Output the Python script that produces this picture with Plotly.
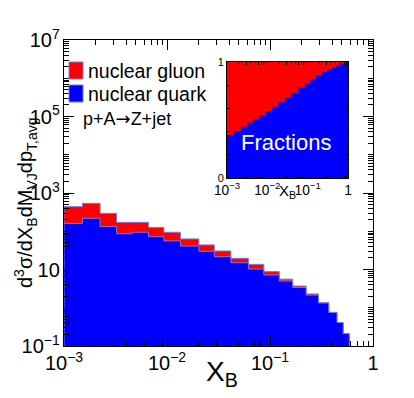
import plotly.graph_objects as go

# main histogram: X_B bin edges and stacked yields
xb_edges = [0.001, 0.00151, 0.00224, 0.00324, 0.00457, 0.00661, 0.00933, 0.0135,
            0.0204, 0.0288, 0.0417, 0.0617, 0.0871, 0.123, 0.166, 0.224, 0.295,
            0.372, 0.447, 0.513, 0.589]
total_yield = [439, 537, 294, 171, 171, 126, 94, 63, 44, 30.5, 19.6, 13.6, 8.8,
               5.6, 3.7, 2.3, 1.36, 0.76, 0.41, 0.21]
quark_yield = [161, 218, 132, 86, 94, 72, 56, 41, 30, 21.6, 15, 10.3, 7.2,
               5.0, 3.4, 2.15, 1.33, 0.75, 0.41, 0.21]

# inset: quark fraction per bin
frac_edges = [0.001, 0.00141, 0.00219, 0.00316, 0.00437, 0.00617, 0.00891, 0.0132,
              0.0186, 0.0275, 0.0398, 0.0589, 0.0851, 0.117, 0.162, 0.229, 0.302,
              0.398, 0.513, 0.646, 0.832, 1.0]
quark_frac = [0.371, 0.405, 0.442, 0.477, 0.505, 0.540, 0.577, 0.614, 0.654, 0.691,
              0.734, 0.777, 0.817, 0.851, 0.888, 0.914, 0.937, 0.956, 0.971, 0.985, 0.995]

legend_labels = ['nuclear gluon', 'nuclear quark']
RED = '#ff0000'
BLUE = '#0000ff'
EDGE = '#7a7ae0'
FONT = 'Liberation Sans, Arial, sans-serif'

# page body has an 8px margin, so the figure is shrunk to fit inside it
W, H = 398, 382
L, R, T, B = 56, 33, 32, 44
OFF = 8


def px(x):
    return (x - OFF - L) / (W - L - R)


def py(y):
    return (H + OFF - B - y) / (H - T - B)


def step_poly(edges, vals, base):
    xs, ys = [edges[0]], [base]
    for i, v in enumerate(vals):
        xs += [edges[i], edges[i + 1]]
        ys += [v, v]
    xs.append(edges[-1])
    ys.append(base)
    return xs, ys


fig = go.Figure()

for vals, col, name in [(total_yield, RED, legend_labels[0]), (quark_yield, BLUE, legend_labels[1])]:
    xs, ys = step_poly(xb_edges, vals, 1e-4)
    fig.add_trace(go.Scatter(x=xs, y=ys, fill='toself', fillcolor=col, mode='lines',
                             line=dict(color=EDGE, width=1), name=name, showlegend=False,
                             hoverinfo='skip'))

total_frac = [1.0 for _ in quark_frac]
for vals, col in [(total_frac, RED), (quark_frac, BLUE)]:
    xs, ys = step_poly(frac_edges, vals, 0)
    fig.add_trace(go.Scatter(x=xs, y=ys, fill='toself', fillcolor=col, mode='lines',
                             line=dict(color=col, width=0), showlegend=False,
                             xaxis='x2', yaxis='y2', hoverinfo='skip'))

axis_common = dict(showgrid=False, zeroline=False, showline=True, linecolor='black',
                   linewidth=1, mirror='allticks', ticks='inside', tickcolor='black',
                   automargin=False)

fig.update_layout(
    width=W, height=H,
    margin=dict(l=L, r=R, t=T, b=B),
    paper_bgcolor='white', plot_bgcolor='white',
    font=dict(family=FONT, color='black'),
    xaxis=dict(type='log', range=[-3, 0], dtick=1, exponentformat='power',
               ticklen=10, tickfont=dict(size=16),
               minor=dict(ticks='inside', ticklen=5, dtick='D1', tickcolor='black'),
               **axis_common),
    yaxis=dict(type='log', range=[-1, 7], tick0=-1, dtick=2, exponentformat='power',
               ticklen=10, tickfont=dict(size=16),
               minor=dict(ticks='inside', ticklen=5, dtick='D1', tickcolor='black'),
               **axis_common),
    xaxis2=dict(type='log', range=[-3, 0], dtick=1, exponentformat='power',
                domain=[px(227), px(348)], anchor='y2', ticklen=5,
                tickfont=dict(size=11),
                minor=dict(ticks='inside', ticklen=3, dtick='D1', tickcolor='black'),
                **axis_common),
    yaxis2=dict(range=[0, 1], tickvals=[0, 1], domain=[py(178), py(62)], anchor='x2',
                ticklen=5, tickfont=dict(size=11),
                minor=dict(ticks='inside', ticklen=3, dtick=0.2, tickcolor='black'),
                **axis_common),
)

# legend boxes
for (y0, y1), col in [((62, 79), RED), ((85, 102), BLUE)]:
    fig.add_shape(type='rect', xref='paper', yref='paper', x0=px(69), x1=px(83),
                  y0=py(y1), y1=py(y0), fillcolor=col, line=dict(color=EDGE, width=1))

arrow = '<span style="font-family:DejaVu Sans">\u2192</span>'
annotations = [
    dict(text=legend_labels[0], x=px(86), y=py(71), xanchor='left', size=19.5),
    dict(text=legend_labels[1], x=px(86), y=py(94), xanchor='left', size=19.5),
    dict(text='p+A' + arrow + 'Z+jet', x=px(81), y=py(119), xanchor='left', size=18),
    dict(text='X<sub>B</sub>', x=px(222), y=py(374), xanchor='center', size=28),
    dict(text='X<sub>B</sub>', x=px(287), y=py(191), xanchor='center', size=15),
    dict(text='d<sup>3</sup>\u03c3/dX<sub>B</sub>dM<sub>VJ</sub>dp<sub>T,avg</sub>',
         x=px(25), y=py(203), xanchor='center', size=20, angle=-90),
]
for a in annotations:
    fig.add_annotation(text=a['text'], x=a['x'], y=a['y'], xref='paper', yref='paper',
                       xanchor=a['xanchor'], yanchor='middle', showarrow=False,
                       textangle=a.get('angle', 0),
                       font=dict(size=a['size'], family=FONT, color='black'))

fig.add_annotation(text='Fractions', x=px(286), y=py(142), xref='paper', yref='paper',
                   xanchor='center', yanchor='middle', showarrow=False,
                   font=dict(size=22, family=FONT, color='white'))

fig.write_html('out.html')
